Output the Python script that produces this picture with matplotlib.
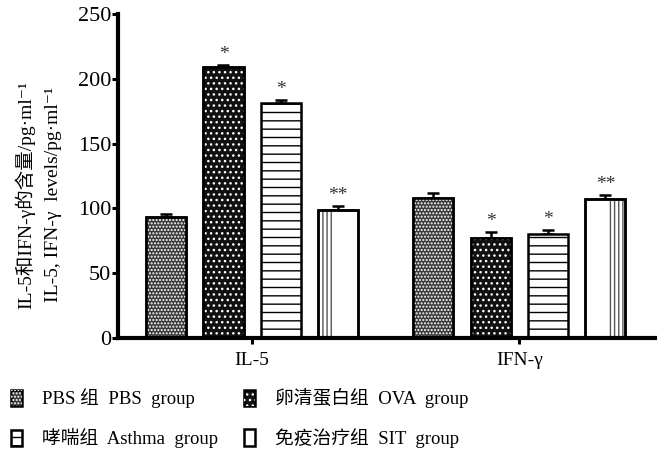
"""
Cytokine levels (IL-5, IFN-gamma) by group, patterned bar chart
"""

### Import modules
import numpy as np
import matplotlib
matplotlib.use('Agg')
import matplotlib.pyplot as plt
from matplotlib.legend_handler import HandlerTuple

### Data
cytokines = ['IL-5', 'IFN-γ']
groups = ['PBS 组  PBS  group', '卵清蛋白组  OVA  group',
          '哮喘组  Asthma  group', '免疫治疗组  SIT  group']
means = {'PBS': [93, 108], 'OVA': [209, 77], 'Asthma': [181, 80], 'SIT': [99, 107]}
errs = {'PBS': [3, 4], 'OVA': [2, 5], 'Asthma': [3, 3], 'SIT': [3, 3]}
stars = {'PBS': ['', ''], 'OVA': ['*', '*'], 'Asthma': ['*', '*'], 'SIT': ['**', '**']}
yticks = [0, 50, 100, 150, 200, 250]

### Fonts
plt.rcParams['font.family'] = ['Liberation Serif', 'Noto Sans CJK SC', 'DejaVu Sans']
plt.rcParams['hatch.linewidth'] = 1.0

fig = plt.figure(figsize=(6.61, 4.62), dpi=100)
ax = fig.add_axes([0.1785, 0.2684, 0.813, 0.7013])

x = np.arange(len(cytokines))
step = 0.2146
width = 0.15
offsets = (np.arange(4) - 1.5) * step
zero = [0, 0]

def draw_err(pos, key):
    ax.errorbar(pos, means[key], yerr=[zero, errs[key]], fmt='none',
                ecolor='black', elinewidth=1.8, capsize=4.5, capthick=1.8,
                zorder=1)
    for xi, yi, ei, s in zip(pos, means[key], errs[key], stars[key]):
        if s:
            ax.text(xi, yi + ei + 1.5, s, ha='center', va='bottom',
                    fontsize=14, color='#333333')

### PBS: grey fine checker
pos = x + offsets[0]
b0 = ax.bar(pos, means['PBS'], width, color='#3a3a3a', edgecolor='black',
            linewidth=1.8, zorder=2)
h0 = ax.bar(pos, means['PBS'], width, color='none', edgecolor='white',
            hatch='.....', linewidth=0, zorder=3)
ax.bar(pos, means['PBS'], width, color='none', edgecolor='black',
       linewidth=1.8, zorder=4)
draw_err(pos, 'PBS')

### OVA: black with white dots
pos = x + offsets[1]
b1 = ax.bar(pos, means['OVA'], width, color='#111111', edgecolor='black',
            linewidth=1.8, zorder=2)
h1 = ax.bar(pos, means['OVA'], width, color='none', edgecolor='white',
            hatch='...', linewidth=0, zorder=3)
ax.bar(pos, means['OVA'], width, color='none', edgecolor='black',
       linewidth=1.8, zorder=4)
draw_err(pos, 'OVA')

### Asthma: horizontal lines
pos = x + offsets[2]
b2 = ax.bar(pos, means['Asthma'], width, color='white', edgecolor='black',
            hatch='--', linewidth=1.8, zorder=2)
draw_err(pos, 'Asthma')

### SIT: white with partial vertical lines
pos = x + offsets[3]
b3 = ax.bar(pos, means['SIT'], width, color='white', edgecolor='black',
            linewidth=1.8, zorder=2)
part = [0.35 * width, 0.45 * width]
shift = [-width / 2 + part[0] / 2, width / 2 - part[1] / 2]
ax.bar(pos + np.array(shift), means['SIT'], part, color='none',
       edgecolor='#555555', hatch='||||', linewidth=0, zorder=3)
ax.bar(pos, means['SIT'], width, color='none', edgecolor='black',
       linewidth=1.8, zorder=4)
draw_err(pos, 'SIT')

### Axes
ax.set_xlim(-0.502, 1.509)
ax.set_ylim(0, 250)
ax.set_yticks(yticks)
ax.set_xticks(x)
ax.set_xticklabels(cytokines, fontsize=14)
ax.tick_params(axis='y', labelsize=16, length=4, width=2.2, direction='out', pad=1)
ax.tick_params(axis='x', length=4, width=2.2, direction='out', pad=6)
for s in ['top', 'right']:
    ax.spines[s].set_visible(False)
ax.spines['left'].set_linewidth(3)
ax.spines['bottom'].set_linewidth(3)
ax.spines['left'].set_zorder(5)
ax.spines['bottom'].set_zorder(5)

fig.text(25 / 661, 1 - 195 / 462, 'IL-5和IFN-γ的含量/pg·ml⁻¹',
         rotation=90, ha='center', va='center', fontsize=14)
fig.text(54 / 661, 1 - 195 / 462, 'IL-5, IFN-γ  levels/pg·ml⁻¹',
         rotation=90, ha='center', va='center', fontsize=14)

### Legend (row order: PBS, OVA / Asthma, SIT)
handles = [(b0, h0), b2, (b1, h1), b3]
labels = [groups[0], groups[2], groups[1], groups[3]]
leg = fig.legend(handles, labels, loc='lower left', bbox_to_anchor=(0.006, 0.0137),
                 ncol=2, frameon=False, fontsize=13.5, handlelength=0.55,
                 handleheight=0.95, handletextpad=1.06, columnspacing=1.42,
                 labelspacing=1.05, borderaxespad=0.0,
                 handler_map={tuple: HandlerTuple(ndivide=1, pad=0)})

plt.savefig('out.png', dpi=100)
